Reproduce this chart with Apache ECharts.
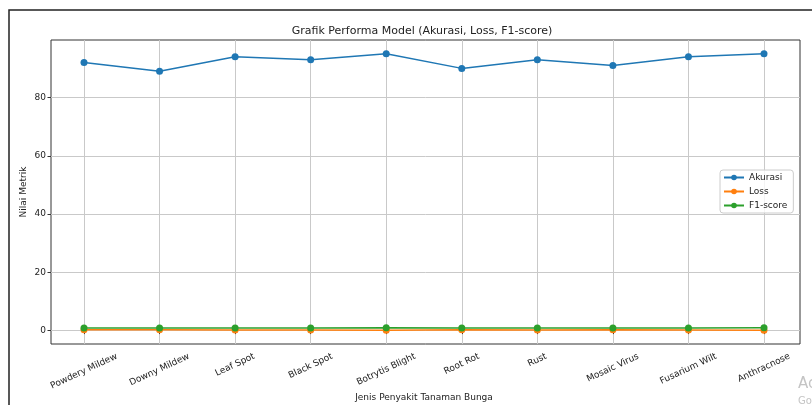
<!DOCTYPE html>
<html><head><meta charset="utf-8">
<script src="https://cdn.jsdelivr.net/npm/echarts@6/dist/echarts.min.js"></script>
<style>html,body{margin:0;padding:0;background:#fff}#c{width:812px;height:405px}</style>
</head><body><div id="c"></div>
<script>
const categories = ['Powdery Mildew','Downy Mildew','Leaf Spot','Black Spot','Botrytis Blight','Root Rot','Rust','Mosaic Virus','Fusarium Wilt','Anthracnose'];
const akurasi = [92, 89, 94, 93, 95, 90, 93, 91, 94, 95];
const loss = [0.25, 0.32, 0.18, 0.21, 0.15, 0.28, 0.20, 0.26, 0.17, 0.14];
const f1score = [0.91, 0.88, 0.93, 0.92, 0.94, 0.89, 0.92, 0.90, 0.93, 0.94];
const yTicks = [0, 20, 40, 60, 80];

const FONT = '"DejaVu Sans", sans-serif';
const LABEL_SIZE = 9;
const ROT = 25;
const TXT = '#222';
const GRIDC = '#c9c9c9';

const all = akurasi.concat(loss, f1score);
const lo = Math.min(...all), hi = Math.max(...all);
const yMin = lo - 0.05 * (hi - lo), yMax = hi + 0.05 * (hi - lo);

// matplotlib-style rotated tick labels: rotated bbox centred on the tick, top at a fixed pad
const PAD = 8, MARGIN = 7, LH = 11;
const cv = document.createElement('canvas').getContext('2d');
cv.font = LABEL_SIZE + 'px "DejaVu Sans"';
const rad = ROT * Math.PI / 180, s = Math.sin(rad), c = Math.cos(rad);
const catData = categories.map(name => {
  const w = cv.measureText(name).width;
  const ax = LH / 2 * s * c + w / 2 * s * s;
  const b = Math.max(0, -LH / 2 * s * s + w / 2 * s * c + (PAD - MARGIN) * c);
  return { value: name, textStyle: { align: 'center', verticalAlign: 'top', padding: [b, 2 * ax, 0, 0] } };
});

const chart = echarts.init(document.getElementById('c'), null, { renderer: 'canvas' });
const gridBox = { top: 40, bottom: 61 };
chart.setOption({
  animation: false,
  backgroundColor: '#fff',
  textStyle: { fontFamily: FONT },
  title: {
    text: 'Grafik Performa Model (Akurasi, Loss, F1-score)',
    left: 417, top: 21, textAlign: 'center',
    textStyle: { fontSize: 11, fontWeight: 'normal', color: TXT, fontFamily: FONT }
  },
  legend: {
    data: ['Akurasi', 'Loss', 'F1-score'],
    orient: 'vertical', left: 720, top: 170,
    backgroundColor: 'rgba(255,255,255,0.8)', borderColor: '#cccccc', borderWidth: 1, borderRadius: 3,
    padding: [3, 6, 3, 3], itemWidth: 20, itemHeight: 7, itemGap: 5,
    textStyle: { fontSize: 9, color: TXT, fontFamily: FONT }
  },
  grid: [
    { left: 51, right: 12, top: gridBox.top, bottom: gridBox.bottom, show: true, borderColor: '#333', borderWidth: 1, backgroundColor: 'transparent', containLabel: false, outerBoundsMode: 'none' },
    { left: 84, right: 48, top: gridBox.top, bottom: gridBox.bottom, containLabel: false, outerBoundsMode: 'none' }
  ],
  xAxis: [
    { gridIndex: 0, type: 'value', min: 0, max: 1, show: false },
    {
      gridIndex: 1, type: 'category', data: catData, boundaryGap: false,
      axisLine: { show: false },
      axisTick: { show: true, length: 3.5, lineStyle: { color: '#333' }, alignWithLabel: true },
      splitLine: { show: true, interval: 0, lineStyle: { color: GRIDC, width: 1 } },
      axisLabel: { interval: 0, rotate: ROT, align: 'center', verticalAlign: 'top', margin: MARGIN, fontSize: LABEL_SIZE, color: TXT, fontFamily: FONT },
      name: 'Jenis Penyakit Tanaman Bunga', nameLocation: 'middle', nameGap: 49, nameMoveOverlap: false,
      nameTextStyle: { fontSize: 9, color: TXT, fontFamily: FONT }
    }
  ],
  yAxis: [
    {
      gridIndex: 0, type: 'value', min: yMin, max: yMax,
      axisLine: { show: false },
      axisTick: { show: true, customValues: yTicks, length: 3.5, lineStyle: { color: '#333' } },
      axisLabel: { customValues: yTicks, fontSize: 9, color: TXT, margin: 5, fontFamily: FONT },
      splitLine: { show: true, lineStyle: { color: GRIDC, width: 1 } },
      name: 'Nilai Metrik', nameLocation: 'middle', nameGap: 23, nameMoveOverlap: false,
      nameTextStyle: { fontSize: 9, color: TXT, fontFamily: FONT }
    },
    { gridIndex: 1, type: 'value', min: yMin, max: yMax,
      axisLine: { show: false }, axisTick: { show: false }, axisLabel: { show: false }, splitLine: { show: false } }
  ],
  series: [
    { name: 'Akurasi', type: 'line', xAxisIndex: 1, yAxisIndex: 1, data: akurasi, symbol: 'circle', symbolSize: 7, color: '#1f77b4', lineStyle: { width: 1.5 } },
    { name: 'Loss', type: 'line', xAxisIndex: 1, yAxisIndex: 1, data: loss, symbol: 'circle', symbolSize: 7, color: '#ff7f0e', lineStyle: { width: 1.5 } },
    { name: 'F1-score', type: 'line', xAxisIndex: 1, yAxisIndex: 1, data: f1score, symbol: 'circle', symbolSize: 7, color: '#2ca02c', lineStyle: { width: 1.5 } }
  ],
  graphic: [
    { type: 'rect', silent: true, shape: { x: 9, y: 10, width: 900, height: 500 }, style: { fill: 'none', stroke: '#222', lineWidth: 1.5 } },
    { type: 'text', silent: true, left: 798, top: 377, style: { text: 'Activate Windows', fontSize: 15, fill: '#c4c4c4', fontFamily: FONT } },
    { type: 'text', silent: true, left: 798, top: 396, style: { text: 'Go to Settings to activate Windows.', fontSize: 10, fill: '#c4c4c4', fontFamily: FONT } }
  ]
});
</script>
</body></html>
